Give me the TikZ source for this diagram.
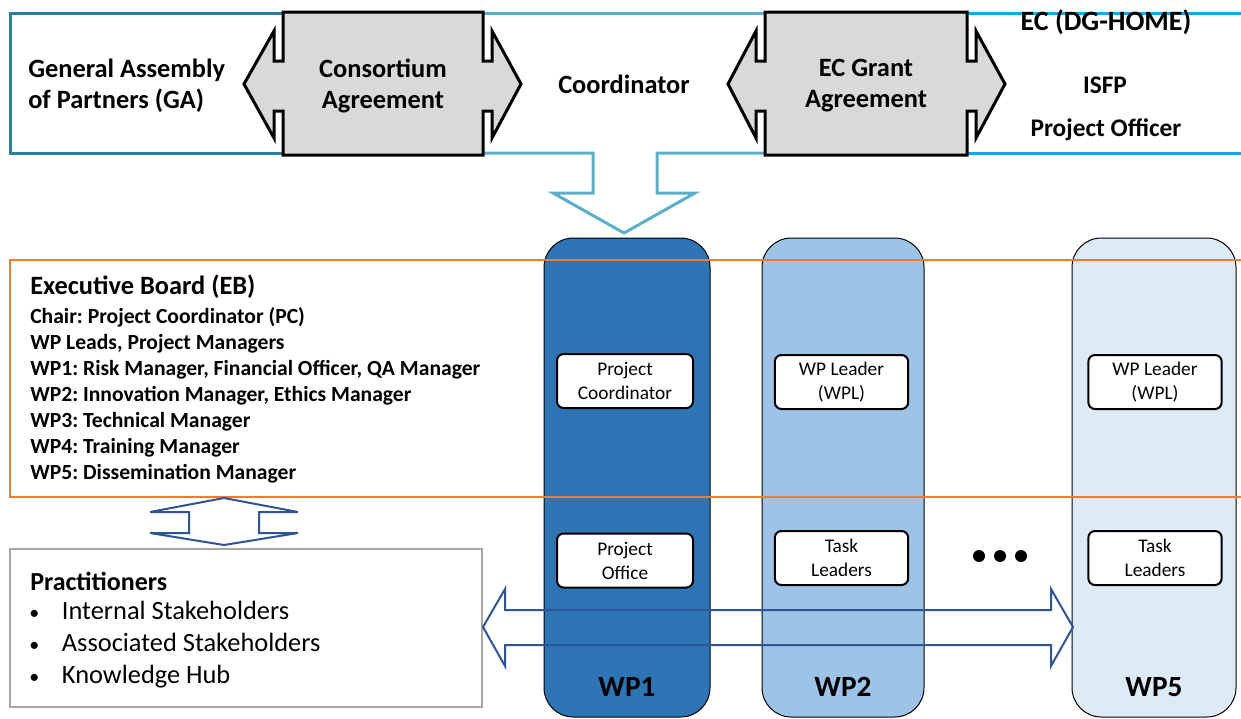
\documentclass[tikz,border=0pt]{standalone}
\usepackage{fontspec}
\setmainfont{Carlito}
\definecolor{tealA}{HTML}{2A7FA1}
\definecolor{tealB}{HTML}{5BAFCB}
\definecolor{cyanB}{HTML}{12A9EA}
\definecolor{grayF}{HTML}{D9D9D9}
\definecolor{orng}{HTML}{ED7D31}
\definecolor{wpa}{HTML}{2E75B6}
\definecolor{wpb}{HTML}{9DC3E6}
\definecolor{wpc}{HTML}{DEEBF7}
\definecolor{darrow}{HTML}{2F5597}
\definecolor{pgray}{HTML}{A6A6A6}
\frenchspacing
\begin{document}
\begin{tikzpicture}[x=0.75pt,y=-0.75pt,
  band/.style={line width=2.25pt},
  gshape/.style={fill=grayF, draw=black, line width=2.25pt, line join=miter},
  toptext/.style={font=\bfseries\fontsize{19.8}{23.25}\selectfont, align=center, inner sep=0pt},
  column/.style={draw=black, line width=0.75pt, rounded corners=22pt},
  innerbox/.style={draw=black, fill=white, line width=1.5pt, rounded corners=5pt, minimum width=100pt, minimum height=40.5pt, align=center, font=\fontsize{14.5}{18}\selectfont, inner sep=0pt},
  wplabel/.style={font=\bfseries\fontsize{22}{26}\selectfont, inner sep=0pt},
  blarrow/.style={draw=darrow, line width=1.5pt, line join=miter},
]
\useasboundingbox (0,0) rectangle (1241,718);

% ---- top band ----
\draw[band, tealA] (283,13) -- (10,13) -- (10,153) -- (283,153);
\draw[band, tealB] (483,13) -- (767,13);
\draw[band, tealB, line join=miter] (483,153) -- (593,153) -- (593,193) -- (553,193) -- (624,233) -- (695,193) -- (657,193) -- (657,153) -- (767,153);
\draw[band, cyanB] (967,13) -- (1241,13);
\draw[band, cyanB] (967,153) -- (1241,153);

% consortium agreement double arrow
\draw[gshape] (283,12) -- (483,12) -- (483,61) -- (492,61) -- (492,31) -- (521,84) -- (492,138) -- (492,111) -- (483,111) -- (483,155) -- (283,155) -- (283,111) -- (274,111) -- (274,138) -- (244,84) -- (274,31) -- (274,61) -- (283,61) -- cycle;
% EC grant agreement double arrow
\draw[gshape] (765,12) -- (967,12) -- (967,61) -- (976,61) -- (976,31) -- (1005,84) -- (976,138) -- (976,111) -- (967,111) -- (967,155) -- (765,155) -- (765,111) -- (756,111) -- (756,138) -- (728,84) -- (756,31) -- (756,61) -- (765,61) -- cycle;

\node[toptext, align=left, anchor=west] (ga) at (28,86) {General Assembly\\of Partners (GA)};
\node[toptext] (ca) at (383,86) {Consortium\\Agreement};
\node[toptext] (coord) at (624,84) {Coordinator};
\node[toptext] (eca) at (866,86) {EC Grant\\Agreement};
\node[toptext, font=\bfseries\fontsize{21}{24}\selectfont] (dghome) at (1106,22) {EC (DG-HOME)};
\node[toptext, font=\bfseries\fontsize{19}{23}\selectfont] (isfp) at (1105,85) {ISFP};
\node[toptext, font=\bfseries\fontsize{19}{23}\selectfont] (po) at (1106,130) {Project Officer};

% ---- work package columns ----
\draw[column, fill=wpa] (544,238) rectangle (710,717);
\draw[column, fill=wpb] (762,238) rectangle (924,717);
\draw[column, fill=wpc] (1072,238) rectangle (1236,717);

% ---- executive board ----
\draw[orng, line width=1.5pt] (10,260) rectangle (1250,497);
\node[anchor=west, font=\bfseries\fontsize{19.8}{22}\selectfont, inner sep=0pt] (ebtitle) at (30,287) {Executive Board (EB)};
\node[anchor=west, align=left, font=\bfseries\fontsize{16.2}{19.5}\selectfont, inner sep=0pt] (eblist) at (30,395) {Chair: Project Coordinator (PC)\\WP Leads, Project Managers\\WP1: Risk Manager, Financial Officer, QA Manager\\WP2: Innovation Manager, Ethics Manager\\WP3: Technical Manager\\WP4: Training Manager\\WP5: Dissemination Manager};

% inner boxes
\node[innerbox, minimum width=102pt] (pc) at (625,381) {Project\\Coordinator};
\node[innerbox] (wpl2) at (841.5,382) {WP Leader\\(WPL)};
\node[innerbox] (wpl5) at (1155,382) {WP Leader\\(WPL)};
\node[innerbox, minimum width=102pt] (pof) at (625,560.5) {Project\\Office};
\node[innerbox] (tl2) at (841.5,558) {Task\\Leaders};
\node[innerbox] (tl5) at (1155,558) {Task\\Leaders};

% dots
\fill (979,556) circle[radius=6];
\fill (1000,556) circle[radius=6];
\fill (1021,556) circle[radius=6];

% WP labels
\node[wplabel] (wp1) at (627,687) {WP1};
\node[wplabel] (wp2) at (843,687) {WP2};
\node[wplabel] (wp5) at (1154,687) {WP5};

% ---- practitioners ----
\draw[pgray, line width=1.5pt] (10,549) rectangle (482,707);
\node[anchor=west, font=\bfseries\fontsize{19.5}{22}\selectfont, inner sep=0pt] (prtitle) at (30,581) {Practitioners};
\node[anchor=west, align=left, font=\fontsize{19.8}{24}\selectfont, inner sep=0pt] (prlist) at (29,645) {\makebox[24.5pt][l]{\fontsize{15}{15}\selectfont\textbullet}Internal Stakeholders\\\makebox[24.5pt][l]{\fontsize{15}{15}\selectfont\textbullet}Associated Stakeholders\\\makebox[24.5pt][l]{\fontsize{15}{15}\selectfont\textbullet}Knowledge Hub};

% vertical double arrow EB <-> practitioners
\draw[blarrow] (224,498) -- (298,512) -- (259,512) -- (259,533) -- (298,533) -- (224,545) -- (150,533) -- (189,533) -- (189,512) -- (150,512) -- cycle;

% horizontal double arrow practitioners <-> WPs
\draw[blarrow] (483,627) -- (505,589) -- (505,610) -- (1051,610) -- (1051,589) -- (1073,627) -- (1051,666) -- (1051,645) -- (505,645) -- (505,666) -- cycle;
\end{tikzpicture}
\end{document}
